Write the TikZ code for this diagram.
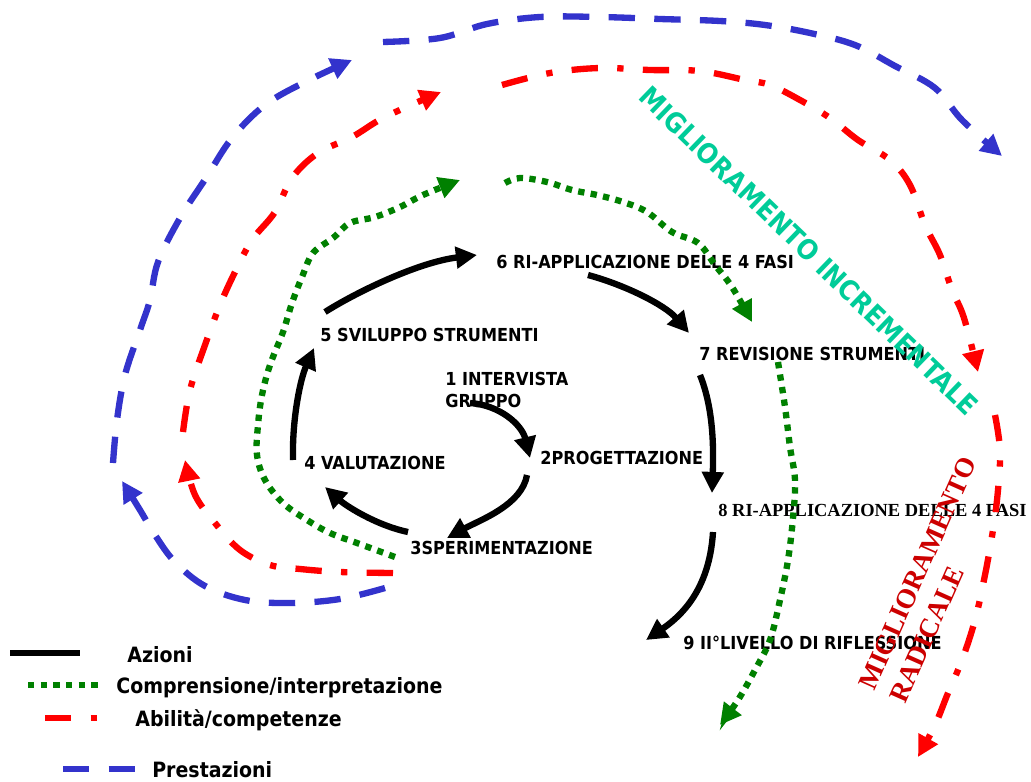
\documentclass[tikz,border=0pt]{standalone}
\usepackage{fontspec}
\usepackage{tikz}
\usetikzlibrary{arrows.meta}
\newfontfamily\etich{DejaVu Sans Condensed Bold}
\newfontfamily\romano{Liberation Serif Bold}
\definecolor{blu}{RGB}{51,51,204}
\definecolor{rosso}{RGB}{255,0,0}
\definecolor{verde}{RGB}{0,128,0}
\definecolor{acqua}{RGB}{0,204,153}
\definecolor{granata}{RGB}{204,0,0}

\tikzset{
  freccia/.style={-{Triangle[length=12pt,width=12pt]}},
  azione/.style={black,line width=3.6pt},
  comprensione/.style={verde,line width=3.6pt,dash pattern=on 3.6pt off 3.6pt},
  abilita/.style={rosso,line width=3.6pt,dash pattern=on 15pt off 11pt on 3.6pt off 11pt},
  prestazione/.style={blu,line width=3.6pt,dash pattern=on 15pt off 11pt},
  etichetta/.style={font=\etich\fontsize{10.2}{12}\selectfont,anchor=west,inner sep=0pt,align=left},
  voce/.style={font=\etich\fontsize{12}{14}\selectfont,anchor=west,inner sep=0pt},
}

\begin{document}
\begin{tikzpicture}[x=0.02cm,y=-0.02cm]
  \useasboundingbox (0,0) rectangle (1031,781);

  % fasi del ciclo
  \node[etichetta] (fase1) at (445,390) {1 INTERVISTA\\GRUPPO};
  \node[etichetta] (fase2) at (540,458) {2PROGETTAZIONE};
  \node[etichetta] (fase3) at (410,548) {3SPERIMENTAZIONE};
  \node[etichetta] (fase4) at (304,463) {4 VALUTAZIONE};
  \node[etichetta] (fase5) at (320,335) {5 SVILUPPO STRUMENTI};
  \node[etichetta] (fase6) at (496,262) {6 RI-APPLICAZIONE DELLE 4 FASI};
  \node[etichetta] (fase7) at (699,354) {7 REVISIONE STRUMENTI};
  \node[anchor=west,inner sep=0pt,font=\romano\fontsize{10.5}{12}\selectfont] (fase8) at (718,510) {8 RI-APPLICAZIONE DELLE 4 FASI};
  \node[etichetta] (fase9) at (683,643) {9 II°LIVELLO DI RIFLESSIONE};

  % estremi delle azioni
  \coordinate (s12) at (470,403); \coordinate (e12) at (530,458);
  \coordinate (s23) at (527,475); \coordinate (e23) at (447,538);
  \coordinate (s34) at (408,532); \coordinate (e34) at (325,487);
  \coordinate (s45) at (293,460); \coordinate (e45) at (314,348);
  \coordinate (s56) at (325,312); \coordinate (e56) at (477,255);
  \coordinate (s67) at (588,275); \coordinate (e67) at (689,333);
  \coordinate (s78) at (700,375); \coordinate (e78) at (712,493);
  \coordinate (s89) at (713,532); \coordinate (e89) at (646,640);

  \draw[azione,freccia] (s12) .. controls (500,405) and (522,425) .. (e12);
  \draw[azione,freccia] (s23) .. controls (522,505) and (480,520) .. (e23);
  \draw[azione,freccia] (s34) .. controls (375,525) and (345,505) .. (e34);
  \draw[azione,freccia] (s45) .. controls (292,420) and (300,380) .. (e45);
  \draw[azione,freccia] (s56) .. controls (360,290) and (420,262) .. (e56);
  \draw[azione,freccia] (s67) .. controls (625,285) and (665,305) .. (e67);
  \draw[azione,freccia] (s78) .. controls (712,405) and (714,440) .. (e78);
  \draw[azione,freccia] (s89) .. controls (710,580) and (690,610) .. (e89);

  % comprensione
  \draw[comprensione,freccia] plot[smooth,tension=0.6] coordinates {(395,557) (357,543) (330,533) (307,520) (283,503) (265,480) (257,455) (258,425) (262,395) (270,365) (283,332) (292,303) (302,277) (313,253) (333,238) (350,223) (375,217) (400,207) (423,195) (460,180)};
  \draw[comprensione,freccia] plot[smooth,tension=0.6] coordinates {(505,183) (520,178) (547,182) (572,190) (597,195) (623,202) (647,212) (672,232) (698,243) (715,265) (732,287) (752,322)};
  \draw[comprensione,freccia] plot[smooth,tension=0.6] coordinates {(778,362) (785,407) (790,447) (795,480) (793,518) (788,560) (780,600) (770,640) (755,670) (738,700) (720,725)};

  % abilita
  \draw[abilita,freccia] plot[smooth,tension=0.6] coordinates {(393,573) (340,572) (300,569) (270,565) (240,550) (215,523) (195,495) (185,460)};
  \draw[abilita,freccia] plot[smooth,tension=0.6] coordinates {(183,432) (190,390) (205,345) (220,305) (235,272) (252,240) (275,212) (292,178) (318,153) (352,137) (385,117) (441,92)};
  \draw[abilita,freccia] plot[smooth,tension=0.6] coordinates {(502,85) (550,73) (600,68) (650,70) (700,71) (745,80) (770,85) (800,100) (830,118) (858,140) (890,160) (910,185) (925,225) (940,255) (952,290) (964,318) (978,372)};
  \draw[abilita,freccia] plot[smooth,tension=0.6] coordinates {(995,415) (1000,450) (998,490) (993,530) (985,575) (975,620) (962,660) (948,693) (935,725) (918,757)};

  % prestazioni
  \draw[prestazione,freccia] plot[smooth,tension=0.6] coordinates {(385,588) (340,599) (290,603) (245,600) (205,586) (175,562) (155,535) (140,510) (122,481)};
  \draw[prestazione,freccia] plot[smooth,tension=0.6] coordinates {(113,463) (117,420) (125,375) (140,330) (150,300) (158,262) (180,218) (206,178) (232,138) (265,105) (305,82) (352,60)};
  \draw[prestazione,freccia] plot[smooth,tension=0.6] coordinates {(383,42) (440,38) (487,24) (540,17) (600,17) (660,19) (720,21) (765,25) (810,33) (855,45) (895,66) (935,88) (962,120) (1002,156)};

  % miglioramento
  \node[acqua,rotate=-44,font=\etich\fontsize{15.6}{17}\selectfont] (incr) at (809,251) {MIGLIORAMENTO INCREMENTALE};
  \node[granata,rotate=66,align=left,font=\romano\fontsize{15.6}{19}\selectfont] (radic) at (933,580) {MIGLIORAMENTO\\RADICALE};

  % legenda
  \coordinate (leg1a) at (10,653);  \coordinate (leg1b) at (80,653);
  \coordinate (leg2a) at (28,685);  \coordinate (leg2b) at (100,685);
  \coordinate (leg3a) at (45,718);  \coordinate (leg3b) at (97,718);
  \coordinate (leg4a) at (63,769);  \coordinate (leg4b) at (135,769);
  \draw[azione] (leg1a) -- (leg1b);
  \draw[comprensione] (leg2a) -- (leg2b);
  \draw[abilita] (leg3a) -- (leg3b);
  \draw[prestazione] (leg4a) -- (leg4b);
  \node[voce] (vAzioni) at (127,655) {Azioni};
  \node[voce] (vCompr) at (116,688) {Comprensione/interpretazione};
  \node[voce] (vAbil) at (135,720) {Abilità/competenze};
  \node[voce] (vPrest) at (152,770) {Prestazioni};
\end{tikzpicture}
\end{document}
